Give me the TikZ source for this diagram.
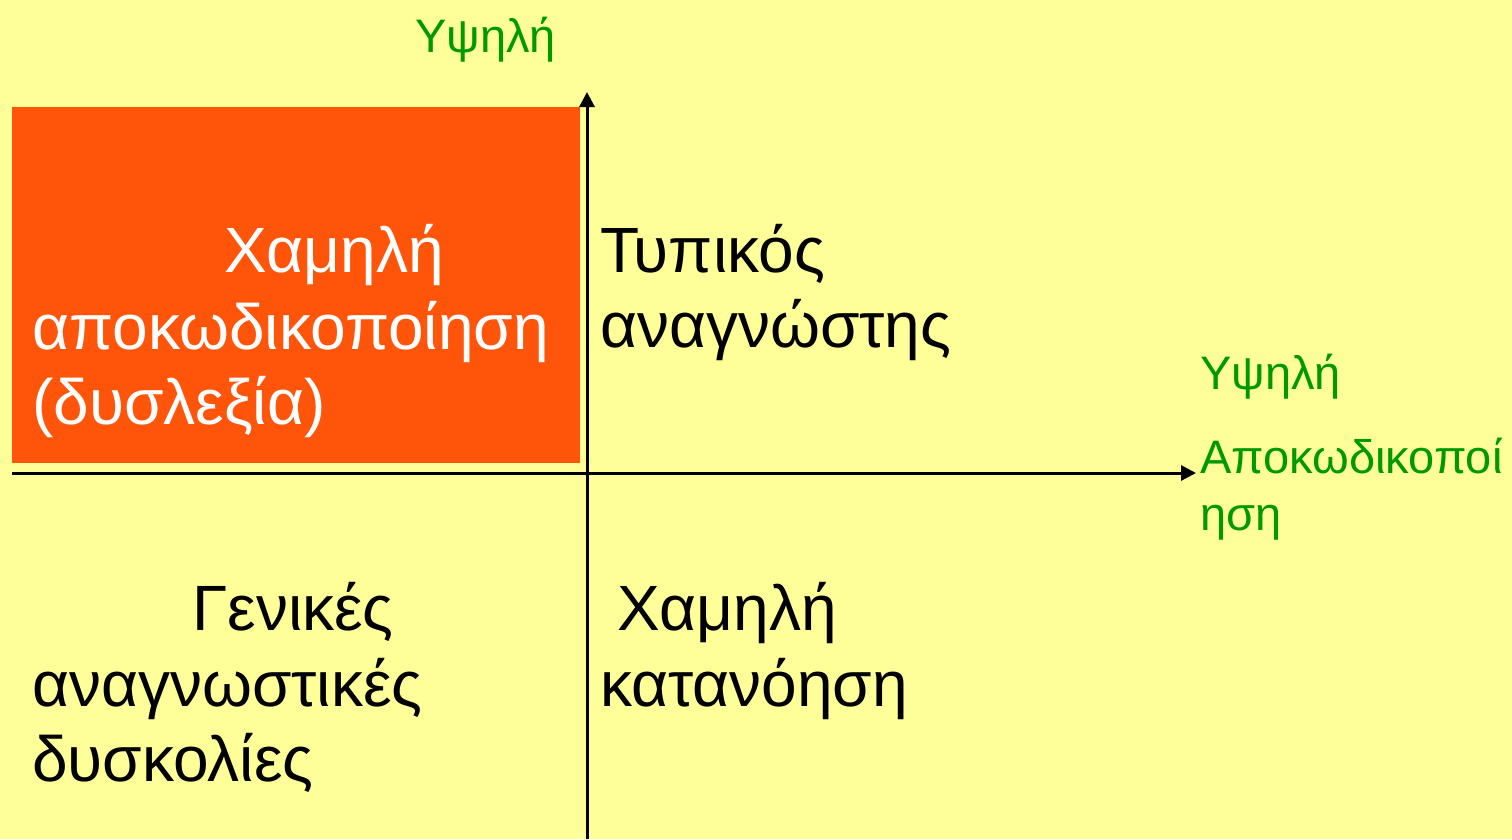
\documentclass[tikz,border=0pt]{standalone}
\usepackage{fontspec}
\setmainfont{Liberation Sans}
\usetikzlibrary{arrows.meta}
\definecolor{bgyellow}{HTML}{FFFF99}
\definecolor{boxorange}{HTML}{FF550A}
\definecolor{lblgreen}{HTML}{009900}
\begin{document}
\begin{tikzpicture}[x=1pt,y=-1pt,
  big/.style={anchor=base west,inner sep=0pt,font=\fontsize{64}{75}\selectfont},
  grn/.style={anchor=base west,inner sep=0pt,text=lblgreen,font=\fontsize{47}{50}\selectfont},
  axis/.style={line width=3pt,-{Triangle[length=15pt,width=15pt]}}]
\fill[bgyellow] (0,0) rectangle (1512,839);
\useasboundingbox (0,0) rectangle (1512,839);
\fill[boxorange] (12,107) rectangle (580,463);
\coordinate (vbot) at (587,839);
\coordinate (vtop) at (587,92);
\coordinate (hleft) at (12,473);
\coordinate (hright) at (1196,473);
\draw[axis] (vbot) -- (vtop);
\draw[axis] (hleft) -- (hright);
\node[big,text=white] (q1a) at (224,272) {Χαμηλή};
\node[big,text=white] (q1b) at (32,349) {αποκωδικοποίηση};
\node[big,text=white] (q1c) at (32,424) {(δυσλεξία)};
\node[big] (q2a) at (600,272) {Τυπικός};
\node[big] (q2b) at (600,347) {αναγνώστης};
\node[big] (q3a) at (192,630) {Γενικές};
\node[big] (q3b) at (32,706) {αναγνωστικές};
\node[big] (q3c) at (32,781) {δυσκολίες};
\node[big] (q4a) at (617,630) {Χαμηλή};
\node[big] (q4b) at (600,706) {κατανόηση};
\node[grn] (ytop) at (415,52) {Υψηλή};
\node[grn] (xr1) at (1200,389) {Υψηλή};
\node[grn] (xr2) at (1200,473) {Αποκωδικοποί};
\node[grn] (xr3) at (1200,530) {ηση};
\end{tikzpicture}
\end{document}
